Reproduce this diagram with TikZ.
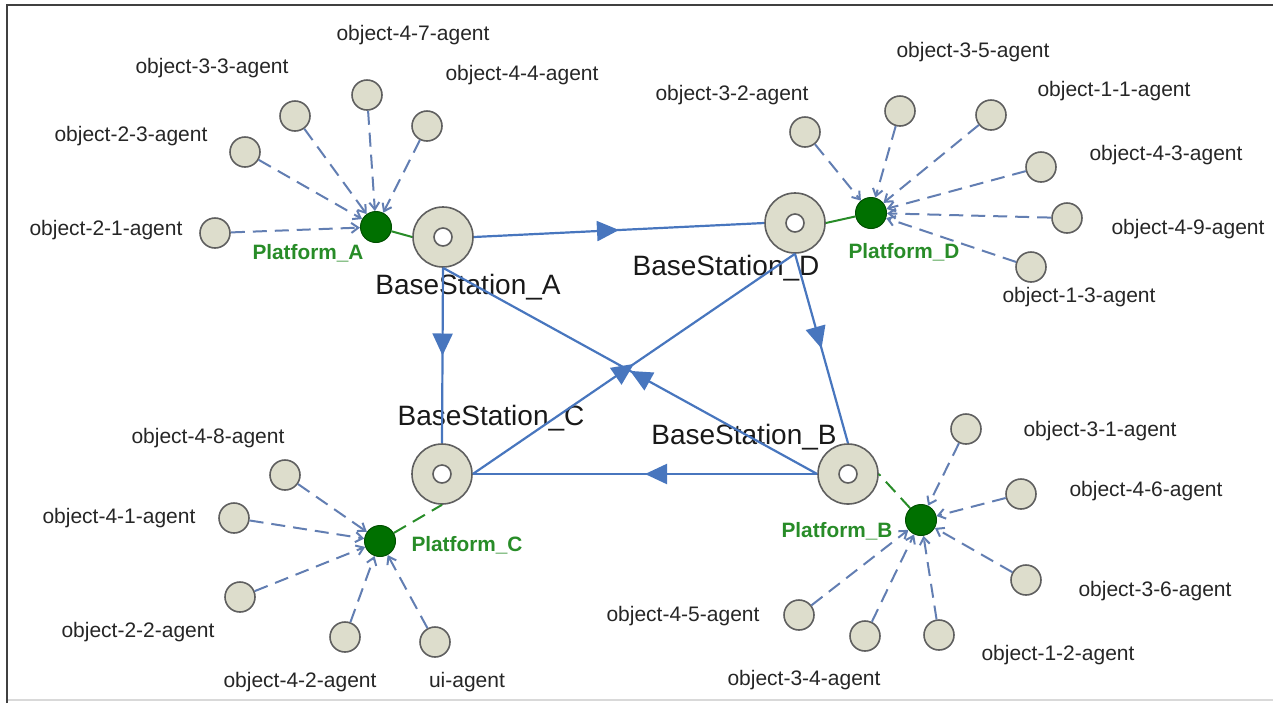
\documentclass[tikz,border=0pt]{standalone}
\usepackage{fontspec}
\setmainfont{Liberation Sans}
\usetikzlibrary{positioning}
\usetikzlibrary{arrows.meta}
\usetikzlibrary{decorations.markings}

\definecolor{nodefill}{RGB}{221,221,204}
\definecolor{nodeline}{RGB}{95,95,95}
\definecolor{linkblue}{RGB}{72,118,190}
\definecolor{dashblue}{RGB}{98,126,178}
\definecolor{platgreen}{RGB}{0,112,0}
\definecolor{platdark}{RGB}{0,80,0}
\definecolor{labgreen}{RGB}{40,140,40}

\tikzset{
    agent/.style={circle, draw=nodeline, fill=nodefill, line width=0.8pt, minimum size=15pt, inner sep=0pt},
    station/.style={circle, draw=nodeline, fill=nodefill, line width=0.8pt, minimum size=30pt, inner sep=0pt},
    hole/.style={circle, draw=nodeline, fill=white, line width=0.8pt, minimum size=9pt, inner sep=0pt},
    platform/.style={circle, draw=platdark, fill=platgreen, line width=0.5pt, minimum size=15.5pt, inner sep=0pt},
    lbl/.style={text=black!85, font=\fontsize{10.5}{12}\selectfont, inner sep=0pt},
    stlbl/.style={text=black!90, font=\fontsize{14}{16}\selectfont, inner sep=0pt},
    plbl/.style={text=labgreen, font=\bfseries\fontsize{10.4}{12}\selectfont, inner sep=0pt},
    link/.style={linkblue, line width=1.1pt, postaction={decorate},
        decoration={markings, mark=at position 0.5 with {\arrow{Triangle[length=11pt,width=10pt]}}}},
    agentlink/.style={dashblue, line width=1pt, dash pattern=on 7pt off 4pt, -{Straight Barb[length=3.5pt,width=5pt]}},
    platlink/.style={labgreen, line width=1pt},
}

\begin{document}
\begin{tikzpicture}[x=0.5pt, y=-0.5pt]
    \useasboundingbox (0,0) rectangle (1273,703);

    % frame
    \draw[black!15, line width=0.8pt] (7,700) -- (1273,700);
    \draw[black!75, line width=1pt] (7,703) -- (7,5) -- (1273,5);

    % base stations
    \foreach \n/\p/\l/\t in {bsa/{443,237}/{468,287}/A, bsd/{795,223}/{726,268}/D,
                             bsc/{442,474}/{491,418}/C, bsb/{848,474}/{744,437}/B} {
        \node[station] (\n) at (\p) {};
        \node[hole] (\n-h) at (\p) {};
        \node[stlbl] (\n-l) at (\l) {BaseStation\_\t};
    }

    % platforms
    \foreach \n/\p/\l/\t in {pa/{376,227}/{308,253}/A, pd/{871,213}/{904,252}/D,
                             pc/{380,541}/{467,545}/C, pb/{921,520}/{837,531}/B} {
        \node[platform] (\n) at (\p) {};
        \node[plbl] (\n-l) at (\l) {Platform\_\t};
    }

    % agents
    \foreach \n/\p/\l/\t in {
            oa21/{215,233}/{106,230}/object-2-1-agent,
            oa23/{245,152}/{131,136}/object-2-3-agent,
            oa33/{295,116}/{212,68}/object-3-3-agent,
            oa47/{367,95}/{413,35}/object-4-7-agent,
            oa44/{427,126}/{522,75}/object-4-4-agent,
            od32/{805,132}/{732,95}/object-3-2-agent,
            od35/{900,111}/{973,52}/object-3-5-agent,
            od11/{991,115}/{1114,91}/object-1-1-agent,
            od43/{1041,167}/{1166,155}/object-4-3-agent,
            od49/{1067,218}/{1188,229}/object-4-9-agent,
            od13/{1031,267}/{1079,297}/object-1-3-agent,
            oc48/{285,475}/{208,438}/object-4-8-agent,
            oc41/{234,518}/{119,518}/object-4-1-agent,
            oc22/{240,597}/{138,632}/object-2-2-agent,
            oc42/{345,637}/{300,682}/object-4-2-agent,
            ocui/{435,642}/{467,682}/ui-agent,
            ob31/{966,429}/{1100,431}/object-3-1-agent,
            ob46/{1021,494}/{1146,491}/object-4-6-agent,
            ob36/{1026,580}/{1155,591}/object-3-6-agent,
            ob12/{939,635}/{1058,655}/object-1-2-agent,
            ob34/{865,636}/{804,680}/object-3-4-agent,
            ob45/{799,615}/{683,616}/object-4-5-agent} {
        \node[agent] (\n) at (\p) {};
        \node[lbl] (\n-l) at (\l) {\t};
    }

    % agent links
    \foreach \n in {oa21, oa23, oa33, oa47, oa44}
        \draw[agentlink] (\n) -- (pa);
    \foreach \n in {od32, od35, od11, od43, od49, od13}
        \draw[agentlink] (\n) -- (pd);
    \foreach \n in {oc48, oc41, oc22, oc42, ocui}
        \draw[agentlink] (\n) -- (pc);
    \foreach \n in {ob31, ob46, ob36, ob12, ob34, ob45}
        \draw[agentlink] (\n) -- (pb);

    % platform to station
    \draw[platlink] (pa) -- (bsa.west);
    \draw[platlink] (pd) -- (bsd.east);
    \draw[platlink, dash pattern=on 7pt off 4pt] (pc) -- (bsc.south);
    \draw[platlink, dash pattern=on 7pt off 4pt] (pb) -- (bsb.east);

    % station links
    \draw[link] (bsa.east) -- (bsd.west);
    \draw[link] (bsa.south) -- (bsc.north);
    \draw[link] (bsd.south) -- (bsb.north);
    \draw[link] (bsb.west) -- (bsa.south);
    \draw[link] (bsc.east) -- (bsd.south);
    \draw[link] (bsb.west) -- (bsc.east);
\end{tikzpicture}
\end{document}
